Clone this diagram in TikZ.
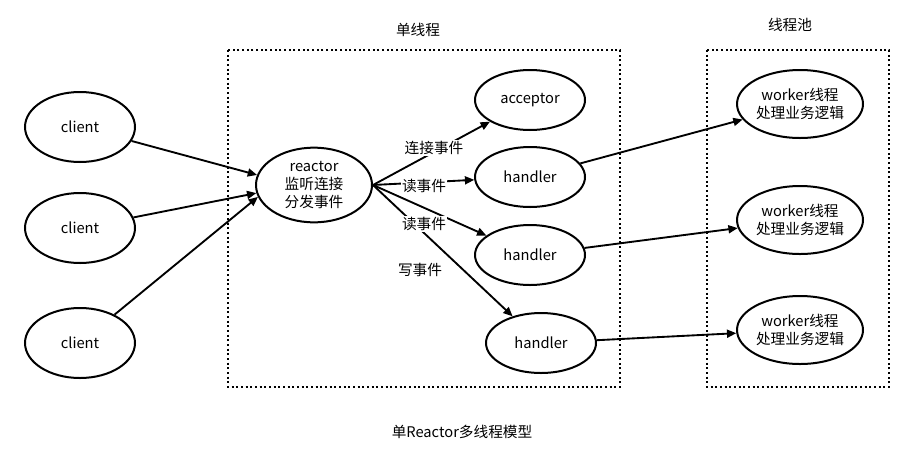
\documentclass[tikz,border=0pt]{standalone}
\usepackage{fontspec}
\setmainfont{Noto Sans CJK SC}
\usetikzlibrary{arrows.meta,shapes.geometric}
\begin{document}
\begin{tikzpicture}[x=0.75pt,y=-0.75pt,
  el/.style={draw,line width=1.5pt,ellipse,inner sep=0pt,font=\fontsize{11}{13.5}\selectfont,align=center},
  arr/.style={-{Triangle[length=7pt,width=6pt]},line width=1.4pt},
  box/.style={draw,dotted,line width=1.5pt},
  lab/.style={font=\fontsize{11}{13}\selectfont,fill=white,inner sep=1pt}]
\useasboundingbox (0,0) rectangle (923,454);
\draw[box] (228,50) rectangle (620,387);
\draw[box] (707,50) rectangle (889,387);
\node[font=\fontsize{11}{13}\selectfont] (t1) at (418,30) {单线程};
\node[font=\fontsize{11}{13}\selectfont] (t2) at (790,25) {线程池};
\node[font=\fontsize{11}{13}\selectfont] (t3) at (462,432) {单Reactor多线程模型};
\node[el,minimum width=82.5pt,minimum height=52.5pt] (c1) at (80,127) {client};
\node[el,minimum width=82.5pt,minimum height=52.5pt] (c2) at (80,228) {client};
\node[el,minimum width=82.5pt,minimum height=52.5pt] (c3) at (80,343) {client};
\node[el,minimum width=87pt,minimum height=56pt] (r) at (314,185) {reactor\\监听连接\\分发事件};
\node[el,minimum width=82.5pt,minimum height=45pt] (a) at (530,100) {acceptor};
\node[el,minimum width=82.5pt,minimum height=45pt] (h1) at (530,177) {handler};
\node[el,minimum width=82.5pt,minimum height=45pt] (h2) at (530,255) {handler};
\node[el,minimum width=82.5pt,minimum height=45pt] (h3) at (541,343) {handler};
\node[el,minimum width=94.5pt,minimum height=51pt] (w1) at (800,104) {worker线程\\处理业务逻辑};
\node[el,minimum width=94.5pt,minimum height=51pt] (w2) at (800,220) {worker线程\\处理业务逻辑};
\node[el,minimum width=94.5pt,minimum height=51pt] (w3) at (800,330) {worker线程\\处理业务逻辑};
\draw[arr] (c1) -- (r.170);
\draw[arr] (c2) -- (r.188);
\draw[arr] (c3) -- (r.192);
\draw[arr] (r.east) -- (a);
\draw[arr] (r.east) -- (h1);
\draw[arr] (r.east) -- (h2);
\draw[arr] (r.east) -- (h3);
\draw[arr] (h1) -- (w1);
\draw[arr] (h2) -- (w2);
\draw[arr] (h3) -- (w3);
\node[lab] (l1) at (434,148) {连接事件};
\node[lab] (l2) at (424,186) {读事件};
\node[lab] (l3) at (424,224) {读事件};
\node[lab] (l4) at (420,270) {写事件};
\end{tikzpicture}
\end{document}
